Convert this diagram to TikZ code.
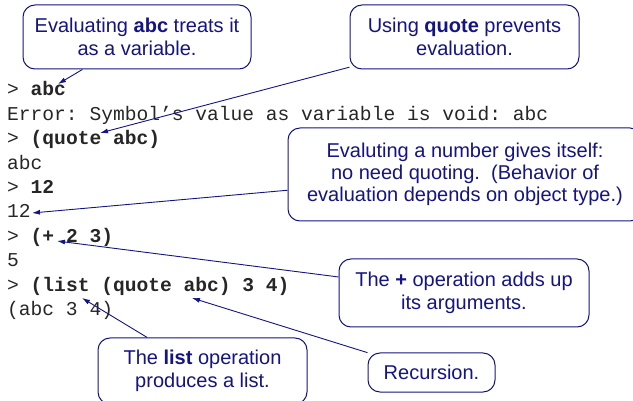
\documentclass[tikz,border=0pt]{standalone}
\usepackage{fontspec}
\setmainfont{Liberation Sans}
\setsansfont{Liberation Sans}
\setmonofont{Liberation Mono}
\usetikzlibrary{arrows.meta}
\definecolor{navy}{RGB}{20,20,130}

\begin{document}
\begin{tikzpicture}[x=1pt,y=-1pt,
  code/.style={anchor=base west, inner sep=0pt, text=black!85,
    font=\ttfamily\fontsize{19.6}{24}\selectfont},
  callout/.style={draw=navy, line width=1pt, rounded corners=12pt, fill=white,
    text=navy, align=center, inner sep=0pt,
    font=\sffamily\fontsize{20}{23}\selectfont},
  pointer/.style={draw=navy, line width=0.9pt, -{Latex[length=8pt,width=5pt]}}]
\useasboundingbox (0,0) rectangle (633,401);

% interpreter session
\node[code] (l0) at (7,96)    {> \textbf{abc}};
\node[code] (l1) at (7,120.4) {Error: Symbol’s value as variable is void: abc};
\node[code] (l2) at (7,144.8) {> \textbf{(quote abc)}};
\node[code] (l3) at (7,169.2) {abc};
\node[code] (l4) at (7,193.6) {> \textbf{12}};
\node[code] (l5) at (7,218)   {12};
\node[code] (l6) at (7,242.4) {> \textbf{(+ 2 3)}};
\node[code] (l7) at (7,266.8) {5};
\node[code] (l8) at (7,291.2) {> \textbf{(list (quote abc) 3 4)}};
\node[code] (l9) at (7,315.6) {(abc 3 4)};

% points the callouts refer to
\coordinate (t1) at (58,84);
\coordinate (t2) at (100,133);
\coordinate (t3) at (32,213);
\coordinate (t4) at (57,241);
\coordinate (t5) at (192,298);
\coordinate (t6) at (82,298);

% callouts
\node[callout, minimum width=228pt, minimum height=64pt] (b1) at (137,37)
  {Evaluating \textbf{abc} treats it\\as a variable.};
\node[callout, minimum width=229pt, minimum height=64pt] (b2) at (464.5,37)
  {Using \textbf{quote} prevents\\evaluation.};
\node[callout, minimum width=354pt, minimum height=93pt,
  font=\sffamily\fontsize{20}{22.2}\selectfont] (b3) at (465,174.5)
  {Evaluting a number gives itself:\\no need quoting.\ \ (Behavior of\\evaluation depends on object type.)};
\node[callout, minimum width=250pt, minimum height=68pt] (b4) at (464,293)
  {The \textbf{+} operation adds up\\its arguments.};
\node[callout, minimum width=127pt, minimum height=39pt] (b5) at (431.5,372.5)
  {Recursion.};
\node[callout, minimum width=209pt, minimum height=66pt] (b6) at (202.5,371)
  {The \textbf{list} operation\\produces a list.};

% pointers
\draw[pointer] (b1) -- (t1);
\draw[pointer] (b2) -- (t2);
\draw[pointer] (b3) -- (t3);
\draw[pointer] (b4) -- (t4);
\draw[pointer] (b5) -- (t5);
\draw[pointer] (b6) -- (t6);
\end{tikzpicture}
\end{document}
